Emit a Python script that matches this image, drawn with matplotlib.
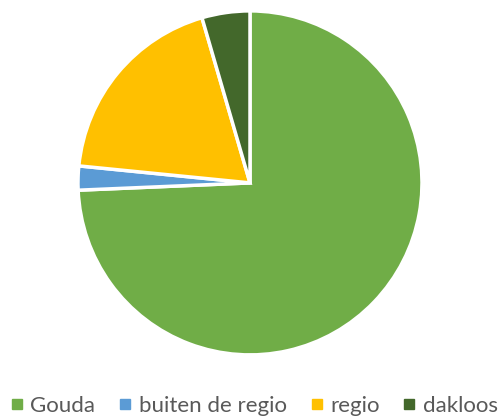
import matplotlib.pyplot as plt
from matplotlib.lines import Line2D

labels = ['Gouda', 'buiten de regio', 'regio', 'dakloos']
values = [165, 5, 42, 10]
colors = ['#70AD47', '#5B9BD5', '#FFC000', '#43682B']

plt.rcParams['font.family'] = ['Lato', 'DejaVu Sans']

fig = plt.figure(figsize=(5.03, 4.19), dpi=100)
ax = fig.add_axes([0.155, 0.153, 0.684, 0.821])
ax.pie(values, colors=colors, startangle=90, counterclock=False,
       wedgeprops=dict(edgecolor='white', linewidth=2.5))
ax.set_xlim(-1.0, 1.0)
ax.set_ylim(-1.0, 1.0)
ax.set_aspect('equal')

handles = [Line2D([], [], marker='s', linestyle='', markersize=6.5,
                  markerfacecolor=c, markeredgecolor=c) for c in colors]
fig.legend(handles, labels, loc='lower center', bbox_to_anchor=(0.505, -0.04),
           ncol=4, frameon=False, fontsize=16, labelcolor='#595959',
           handlelength=0.6, handletextpad=0.3, columnspacing=1.05)

fig.savefig('out.png', dpi=100)
